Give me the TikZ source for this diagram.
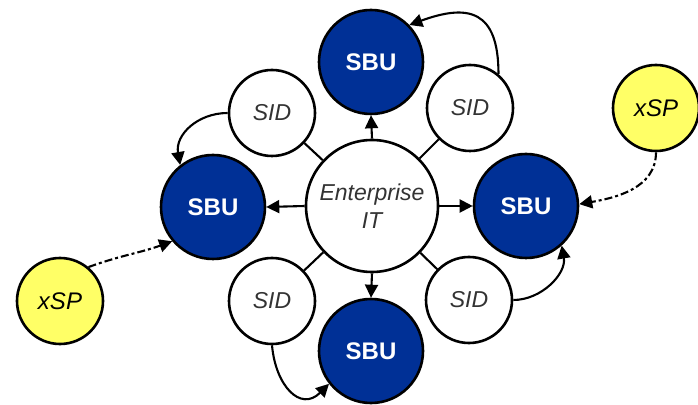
\documentclass[tikz,border=0pt]{standalone}
\usepackage{fontspec}
\setmainfont{Liberation Sans}
\usetikzlibrary{arrows.meta}
\definecolor{sbublue}{RGB}{0,48,150}
\definecolor{xspyellow}{RGB}{255,255,102}
\begin{document}
\begin{tikzpicture}[x=1pt,y=1pt,
        unit/.style = {circle, draw, line width=2.6pt, inner sep=0pt},
        sbu/.style  = {unit, fill=sbublue, minimum size=104pt, text=white, font=\fontsize{24}{26}\selectfont\bfseries},
        sid/.style  = {unit, fill=white, minimum size=86pt, text=black!80, font=\fontsize{23}{26}\selectfont\itshape},
        xsp/.style  = {unit, fill=xspyellow, minimum size=86pt, font=\fontsize{24}{26}\selectfont\itshape},
        ent/.style  = {unit, fill=white, minimum size=132pt, text=black!80, align=center, font=\fontsize{23}{28}\selectfont\itshape},
        arr/.style  = {line width=2.1pt, -{Triangle[length=13pt,width=13pt]}},
        link/.style = {line width=2.1pt},
        ext/.style  = {arr, dash pattern=on 8pt off 3pt on 3pt off 3pt}]
        \useasboundingbox (0,0) rectangle (698,404);
        \node[ent] (it) at (372,198) {Enterprise\\IT};
        \node[sbu] (sbuT) at (371,342) {SBU};
        \node[sbu] (sbuL) at (213,197) {SBU};
        \node[sbu] (sbuR) at (526,198) {SBU};
        \node[sbu] (sbuB) at (371,53) {SBU};
        \node[sid] (sidUL) at (272,291) {SID};
        \node[sid] (sidUR) at (470,296) {SID};
        \node[sid] (sidLL) at (272,103) {SID};
        \node[sid] (sidLR) at (469,104) {SID};
        \node[xsp] (xspL) at (60,103) {xSP};
        \node[xsp] (xspR) at (656,296) {xSP};
        \draw[arr] (it.north) -- (sbuT.south);
        \draw[arr] (it.west) -- (sbuL.east);
        \draw[arr] (it.east) -- (sbuR.west);
        \draw[arr] (it.south) -- (sbuB.north);
        \draw[link] (it) -- (sidUL);
        \draw[link] (it) -- (sidUR);
        \draw[link] (it) -- (sidLL);
        \draw[link] (it) -- (sidLR);
        \draw[arr] (sidUL.west) to[out=180, in=100, looseness=1.1] (sbuL.128);
        \draw[arr] (sidUR.50) to[out=90, in=20, looseness=1.6] (sbuT.44);
        \draw[arr] (sidLR.east) to[out=0, in=-80] (sbuR.-48);
        \draw[arr] (sidLL.south) to[out=-85, in=225, looseness=1.5] (sbuB.218);
        \draw[ext] (xspL.50) to[out=20, in=200] (sbuL.220);
        \draw[ext] (xspR.south) to[out=-90, in=10] (sbuR.2);
    \end{tikzpicture}
\end{document}
